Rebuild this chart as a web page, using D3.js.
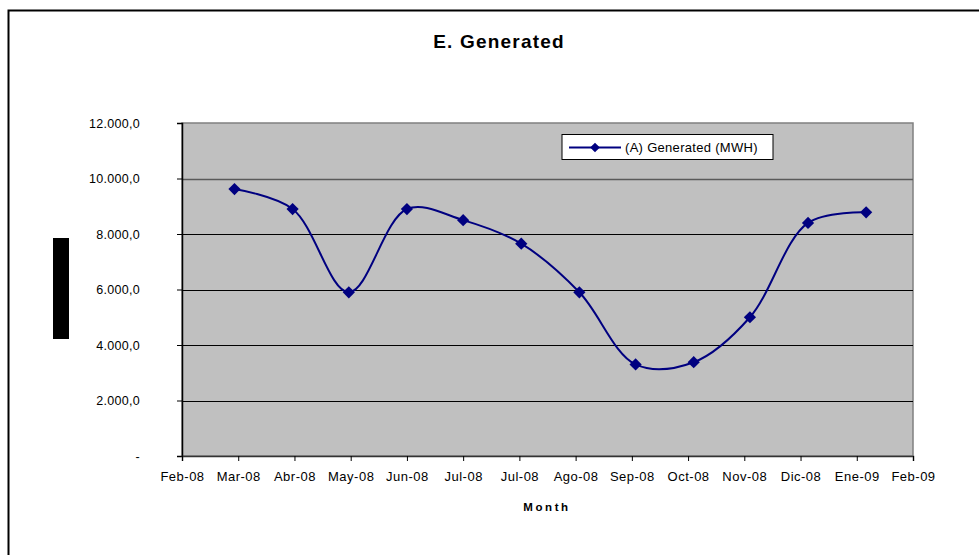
<!DOCTYPE html>
<html>
<head>
<meta charset="utf-8">
<script src="https://cdn.jsdelivr.net/npm/d3@7"></script>
<style>
  body { margin: 0; background: #fff; }
  text { font-family: "Liberation Sans", Arial, sans-serif; }
</style>
</head>
<body>
<svg id="chart" width="979" height="555"></svg>
<script>
// data: 1st of each month, Mar-08 .. Feb-09
var months = ["2008-03-01","2008-04-01","2008-05-01","2008-06-01","2008-07-01","2008-08-01",
              "2008-09-01","2008-10-01","2008-11-01","2008-12-01","2009-01-01","2009-02-01"];
var generated = [9620, 8900, 5900, 8900, 8500, 7650, 5900, 3300, 3380, 5000, 8400, 8780];

// excel date axis: starts Feb 2 2008, major unit 30 days
var axisStart = "2008-02-02";
var tickStepDays = 30;
var tickLabels = ["Feb-08","Mar-08","Abr-08","May-08","Jun-08","Jul-08","Jul-08",
                  "Ago-08","Sep-08","Oct-08","Nov-08","Dic-08","Ene-09","Feb-09"];
var yTicks = [0, 2000, 4000, 6000, 8000, 10000, 12000];

var seriesName = "(A) Generated (MWH)";
var title = "E. Generated";
var xTitle = "Month";

var parse = d3.timeParse("%Y-%m-%d");
var t0 = parse(axisStart);
var tickDates = tickLabels.map(function (d, i) { return d3.timeDay.offset(t0, i * tickStepDays); });
var data = months.map(function (m, i) { return { date: parse(m), value: generated[i] }; });

var svg = d3.select("#chart");
var plot = { left: 182, top: 123, right: 913, bottom: 456 };

var x = d3.scaleTime()
    .domain([tickDates[0], tickDates[tickDates.length - 1]])
    .range([plot.left, plot.right]);
var y = d3.scaleLinear().domain([0, 12000]).range([plot.bottom, plot.top]);

var es = d3.formatLocale({ decimal: ",", thousands: ".", grouping: [3], currency: ["", ""] });
var fmt = es.format(",.1f");

// outer chart border (right and bottom run off the picture)
svg.append("rect")
    .attr("x", 8.5).attr("y", 10.5)
    .attr("width", 1000).attr("height", 600)
    .attr("fill", "none").attr("stroke", "#000").attr("stroke-width", 2);

svg.append("text")
    .attr("x", 499).attr("y", 48)
    .attr("text-anchor", "middle")
    .attr("font-size", 19).attr("font-weight", "bold")
    .attr("letter-spacing", 1.2)
    .text(title);

// plot area
svg.append("rect")
    .attr("x", plot.left).attr("y", plot.top)
    .attr("width", plot.right - plot.left).attr("height", plot.bottom - plot.top)
    .attr("fill", "#c0c0c0").attr("stroke", "#808080").attr("stroke-width", 1.5);

// gridlines
svg.append("g").selectAll("line")
    .data(yTicks.filter(function (d) { return d > 0 && d < 12000; }))
    .join("line")
    .attr("x1", plot.left).attr("x2", plot.right)
    .attr("y1", function (d) { return Math.round(y(d)) + 0.5; })
    .attr("y2", function (d) { return Math.round(y(d)) + 0.5; })
    .attr("stroke", function (d) { return d === 10000 ? "#5a5a5a" : "#000"; })
    .attr("stroke-width", function (d) { return d === 10000 ? 1.5 : 1; });

// y axis
var yAxis = d3.axisLeft(y).tickValues(yTicks).tickSize(5).tickPadding(37)
    .tickFormat(function (d) { return d === 0 ? "-" : fmt(d); });
var gy = svg.append("g").attr("transform", "translate(" + plot.left + ",0)").call(yAxis);
gy.select(".domain").attr("stroke", "#000").attr("stroke-width", 1.5);
gy.selectAll(".tick line").attr("stroke", "#000");
gy.selectAll(".tick text")
    .attr("font-size", 12.5).attr("fill", "#000")
    .attr("font-family", "Liberation Sans, Arial, sans-serif")
    .attr("letter-spacing", 0.3);

// x axis
var xAxis = d3.axisBottom(x).tickValues(tickDates).tickSize(5).tickPadding(11)
    .tickFormat(function (d, i) { return tickLabels[i]; });
var gx = svg.append("g").attr("transform", "translate(0," + plot.bottom + ")").call(xAxis);
gx.select(".domain").attr("stroke", "#333").attr("stroke-width", 1.5);
gx.selectAll(".tick line").attr("stroke", "#000");
gx.selectAll(".tick text")
    .attr("font-size", 13).attr("fill", "#000")
    .attr("font-family", "Liberation Sans, Arial, sans-serif")
    .attr("letter-spacing", 0.5);

svg.append("text")
    .attr("x", 547).attr("y", 511)
    .attr("text-anchor", "middle")
    .attr("font-size", 11.5).attr("font-weight", "bold")
    .attr("letter-spacing", 2.6)
    .text(xTitle);

// y axis title is blacked out in the reference
svg.append("rect")
    .attr("x", 53).attr("y", 238).attr("width", 16).attr("height", 101)
    .attr("fill", "#000");

// series
var line = d3.line()
    .x(function (d) { return x(d.date); })
    .y(function (d) { return y(d.value); })
    .curve(d3.curveCatmullRom.alpha(0.5));

svg.append("path")
    .datum(data)
    .attr("d", line)
    .attr("fill", "none")
    .attr("stroke", "#000080")
    .attr("stroke-width", 2);

var diamond = d3.symbol().type(d3.symbolDiamond2).size(95);
svg.append("g").selectAll("path")
    .data(data)
    .join("path")
    .attr("transform", function (d) { return "translate(" + x(d.date) + "," + y(d.value) + ")"; })
    .attr("d", diamond)
    .attr("fill", "#000080");

// legend
var lg = svg.append("g").attr("transform", "translate(562,134.5)");
lg.append("rect")
    .attr("width", 211).attr("height", 25)
    .attr("fill", "#fff").attr("stroke", "#000").attr("stroke-width", 1);
lg.append("line")
    .attr("x1", 7).attr("x2", 59).attr("y1", 13).attr("y2", 13)
    .attr("stroke", "#000080").attr("stroke-width", 2);
lg.append("path")
    .attr("transform", "translate(33,13)")
    .attr("d", d3.symbol().type(d3.symbolDiamond2).size(60))
    .attr("fill", "#000080");
lg.append("text")
    .attr("x", 63).attr("y", 17.5)
    .attr("font-size", 13).attr("fill", "#000")
    .attr("letter-spacing", 0.3)
    .text(seriesName);
</script>
</body>
</html>
